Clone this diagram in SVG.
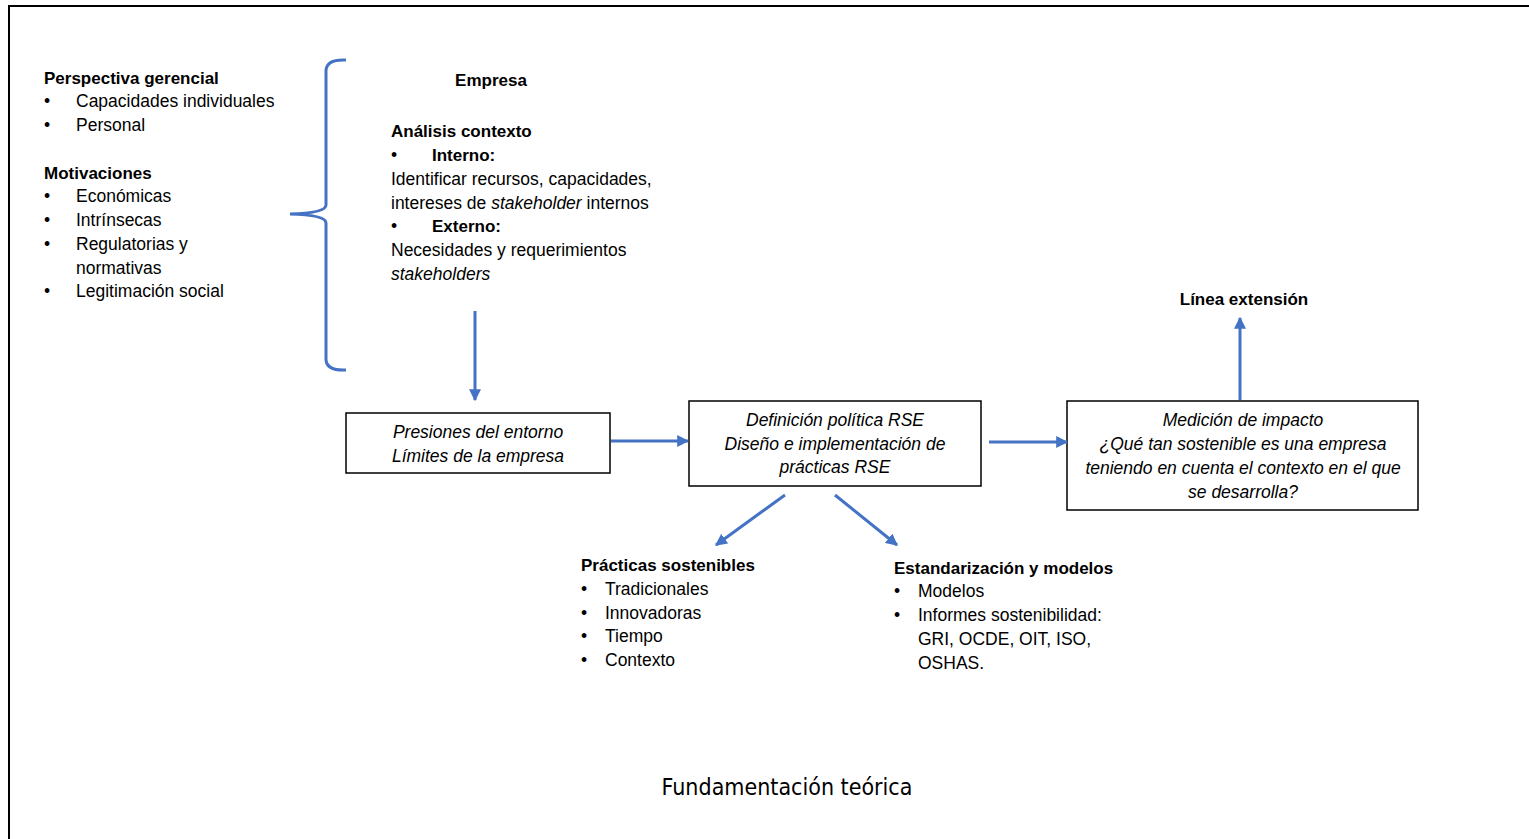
<svg xmlns="http://www.w3.org/2000/svg" width="1529" height="839" viewBox="0 0 1529 839">
<style>
text{font-family:"Liberation Sans",Arial,sans-serif;font-size:17.5px;fill:#000}
.b{font-weight:bold;font-size:17px}
.i{font-style:italic}
.c{text-anchor:middle}
.box{fill:#fff;stroke:#000;stroke-width:1.5}
.con{stroke:#4472C4;stroke-width:3;fill:none}
.title{font-family:"DejaVu Sans Condensed","DejaVu Sans",sans-serif;font-stretch:condensed;font-size:23px}
</style>
<defs>
<marker id="ah" viewBox="0 0 10 10" refX="9" refY="5" markerWidth="4" markerHeight="4" orient="auto" markerUnits="strokeWidth">
<path d="M0,0 L10,5 L0,10 z" fill="#4472C4"/>
</marker>
</defs>
<rect x="0" y="0" width="1529" height="839" fill="#fff"/>
<path d="M9,845 V6 H1535" fill="none" stroke="#000" stroke-width="2"/>

<g id="left-list">
<text class="b" x="44" y="84">Perspectiva gerencial</text>
<text x="44" y="107">•</text><text x="76" y="107">Capacidades individuales</text>
<text x="44" y="131">•</text><text x="76" y="131">Personal</text>
<text class="b" x="44" y="179">Motivaciones</text>
<text x="44" y="202">•</text><text x="76" y="202">Económicas</text>
<text x="44" y="226">•</text><text x="76" y="226">Intrínsecas</text>
<text x="44" y="250">•</text><text x="76" y="250">Regulatorias y</text>
<text x="76" y="274">normativas</text>
<text x="44" y="297">•</text><text x="76" y="297">Legitimación social</text>
</g>

<g id="brace">
<path class="con" d="M346,60 Q327,59 326,70 V205 Q326,213 290,214 Q326,215 326,223 V360 Q327,371 346,370"/>
</g>

<g id="empresa">
<text class="b c" x="491" y="86">Empresa</text>
<text class="b" x="391" y="137">Análisis contexto</text>
<text x="391" y="161">•</text><text class="b" x="432" y="161">Interno:</text>
<text x="391" y="185">Identificar recursos, capacidades,</text>
<text x="391" y="209">intereses de <tspan class="i">stakeholder</tspan> internos</text>
<text x="391" y="232">•</text><text class="b" x="432" y="232">Externo:</text>
<text x="391" y="256">Necesidades y requerimientos</text>
<text class="i" x="391" y="280">stakeholders</text>
</g>

<g id="presiones">
<rect class="box" x="346" y="413" width="264" height="60"/>
<text class="i c" x="478" y="438">Presiones del entorno</text>
<text class="i c" x="478" y="462">Límites de la empresa</text>
</g>

<g id="definicion">
<rect class="box" x="689" y="401" width="292" height="85"/>
<text class="i c" x="835" y="426">Definición política RSE</text>
<text class="i c" x="835" y="450">Diseño e implementación de</text>
<text class="i c" x="835" y="473">prácticas RSE</text>
</g>

<g id="medicion">
<rect class="box" x="1067" y="401" width="351" height="109"/>
<text class="i c" x="1243" y="426">Medición de impacto</text>
<text class="i c" x="1243" y="450">¿Qué tan sostenible es una empresa</text>
<text class="i c" x="1243" y="474">teniendo en cuenta el contexto en el que</text>
<text class="i c" x="1243" y="498">se desarrolla?</text>
</g>

<g id="linea">
<text class="b c" x="1244" y="305">Línea extensión</text>
</g>

<g id="practicas">
<text class="b" x="581" y="571">Prácticas sostenibles</text>
<text x="581" y="595">•</text><text x="605" y="595">Tradicionales</text>
<text x="581" y="619">•</text><text x="605" y="619">Innovadoras</text>
<text x="581" y="642">•</text><text x="605" y="642">Tiempo</text>
<text x="581" y="666">•</text><text x="605" y="666">Contexto</text>
</g>

<g id="estandarizacion">
<text class="b" x="894" y="574">Estandarización y modelos</text>
<text x="894" y="597">•</text><text x="918" y="597">Modelos</text>
<text x="894" y="621">•</text><text x="918" y="621">Informes sostenibilidad:</text>
<text x="918" y="645">GRI, OCDE, OIT, ISO,</text>
<text x="918" y="669">OSHAS.</text>
</g>

<g id="connectors">
<line class="con" x1="475" y1="311" x2="475" y2="400" marker-end="url(#ah)"/>
<line class="con" x1="611" y1="441" x2="688" y2="441" marker-end="url(#ah)"/>
<line class="con" x1="989" y1="442" x2="1067" y2="442" marker-end="url(#ah)"/>
<line class="con" x1="1240" y1="400" x2="1240" y2="318" marker-end="url(#ah)"/>
<line class="con" x1="785" y1="495" x2="716" y2="545" marker-end="url(#ah)"/>
<line class="con" x1="835" y1="495" x2="897" y2="545" marker-end="url(#ah)"/>
</g>

<text class="title c" x="787" y="795">Fundamentación teórica</text>
</svg>
